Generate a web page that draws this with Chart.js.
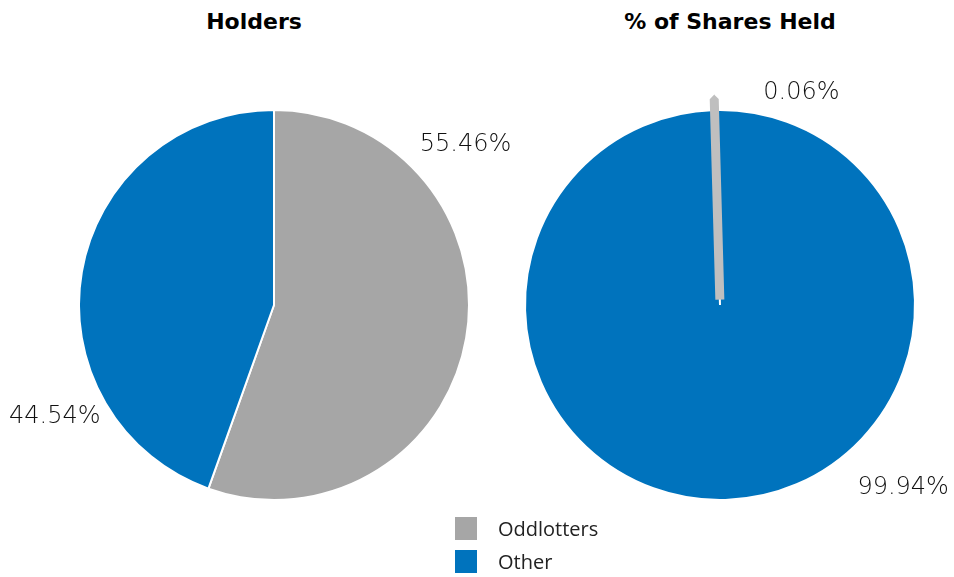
<!DOCTYPE html>
<html>
<head>
	<title>Holders / % of Shares Held</title>
	<meta charset="utf-8"/>
	<script src="https://cdn.jsdelivr.net/npm/chart.js@4.4.0/dist/chart.umd.min.js"></script>
	<style>
		body { margin: 0; width: 954px; height: 577px; background: #fff; position: relative; overflow: hidden; }
		.box { position: absolute; top: 0; height: 577px; }
		#leftBox { left: 0; width: 548px; }
		#rightBox { left: 477px; width: 477px; }
		.title { position: absolute; top: 9px; width: 300px; text-align: center; font: bold 22px "DejaVu Sans", sans-serif; color: #000; }
		#legend { position: absolute; left: 455px; top: 517px; font: 20px "Open Sans", sans-serif; color: #222; }
		.item { height: 33px; line-height: 24px; white-space: nowrap; }
		.sw { display: inline-block; width: 22px; height: 23px; vertical-align: top; margin-right: 21px; }
	</style>
</head>
<body>
	<div class="title" style="left:104px">Holders</div>
	<div class="title" style="left:580px">% of Shares Held</div>
	<div class="box" id="leftBox"><canvas id="holdersChart"></canvas></div>
	<div class="box" id="rightBox"><canvas id="sharesChart"></canvas></div>
	<div id="legend"></div>

	<script>
		var categories = ['Oddlotters', 'Other'];
		var holdersPct = [55.46, 44.54];
		var sharesPct = [0.06, 99.94];

		var grey = '#a6a6a6';
		var lightGrey = '#bfbfbf';
		var blue = '#0073bd';

		// draws the percentage text outside each slice
		var outsideLabels = {
			id: 'outsideLabels',
			afterDatasetsDraw: function (chart, args, opts) {
				var ctx = chart.ctx;
				var meta = chart.getDatasetMeta(0);
				var values = chart.data.datasets[0].data;
				ctx.save();
				ctx.font = '200 24px "DejaVu Sans"';
				ctx.fillStyle = '#111';
				ctx.textAlign = 'center';
				ctx.textBaseline = 'middle';
				for (var i = 0; i < meta.data.length; i++) {
					var arc = meta.data[i];
					var spot = opts.spots[i];
					var a = spot.angle * Math.PI / 180;
					ctx.fillText(values[i].toFixed(2) + '%', arc.x + Math.cos(a) * spot.dist, arc.y + Math.sin(a) * spot.dist);
				}
				ctx.restore();
			}
		};

		// left pie: Holders
		new Chart(document.getElementById('holdersChart'), {
			type: 'pie',
			data: {
				labels: categories,
				datasets: [{
					data: holdersPct,
					backgroundColor: [grey, blue],
					borderColor: '#ffffff',
					borderWidth: 2
				}]
			},
			options: {
				responsive: true,
				maintainAspectRatio: false,
				animation: false,
				radius: 195,
				layout: { padding: { top: 33 } },
				plugins: {
					legend: { display: false },
					tooltip: { enabled: false },
					outsideLabels: { spots: [{ angle: -40, dist: 250 }, { angle: 153, dist: 246 }] }
				}
			},
			plugins: [outsideLabels]
		});

		// right pie: % of Shares Held (small slice drawn last so it sits on top)
		var sharesOrder = [1, 0];
		new Chart(document.getElementById('sharesChart'), {
			type: 'pie',
			data: {
				labels: sharesOrder.map(function (i) { return categories[i]; }),
				datasets: [{
					data: sharesOrder.map(function (i) { return sharesPct[i]; }),
					backgroundColor: [blue, lightGrey],
					borderColor: ['#ffffff', lightGrey],
					borderWidth: [2, 9],
					offset: [0, 22]
				}]
			},
			options: {
				responsive: true,
				maintainAspectRatio: false,
				animation: false,
				radius: 195,
				rotation: -1.5,
				layout: { padding: { top: 33, left: 9 } },
				plugins: {
					legend: { display: false },
					tooltip: { enabled: false },
					outsideLabels: { spots: [{ angle: 45, dist: 259 }, { angle: -69, dist: 227 }] }
				}
			},
			plugins: [outsideLabels]
		});

		// legend shared by both pies
		var legendColors = [grey, blue];
		var legend = document.getElementById('legend');
		for (var i = 0; i < categories.length; i++) {
			var item = document.createElement('div');
			item.className = 'item';
			item.innerHTML = '<span class="sw" style="background:' + legendColors[i] + '"></span>' + categories[i];
			legend.appendChild(item);
		}
	</script>
</body>
</html>
